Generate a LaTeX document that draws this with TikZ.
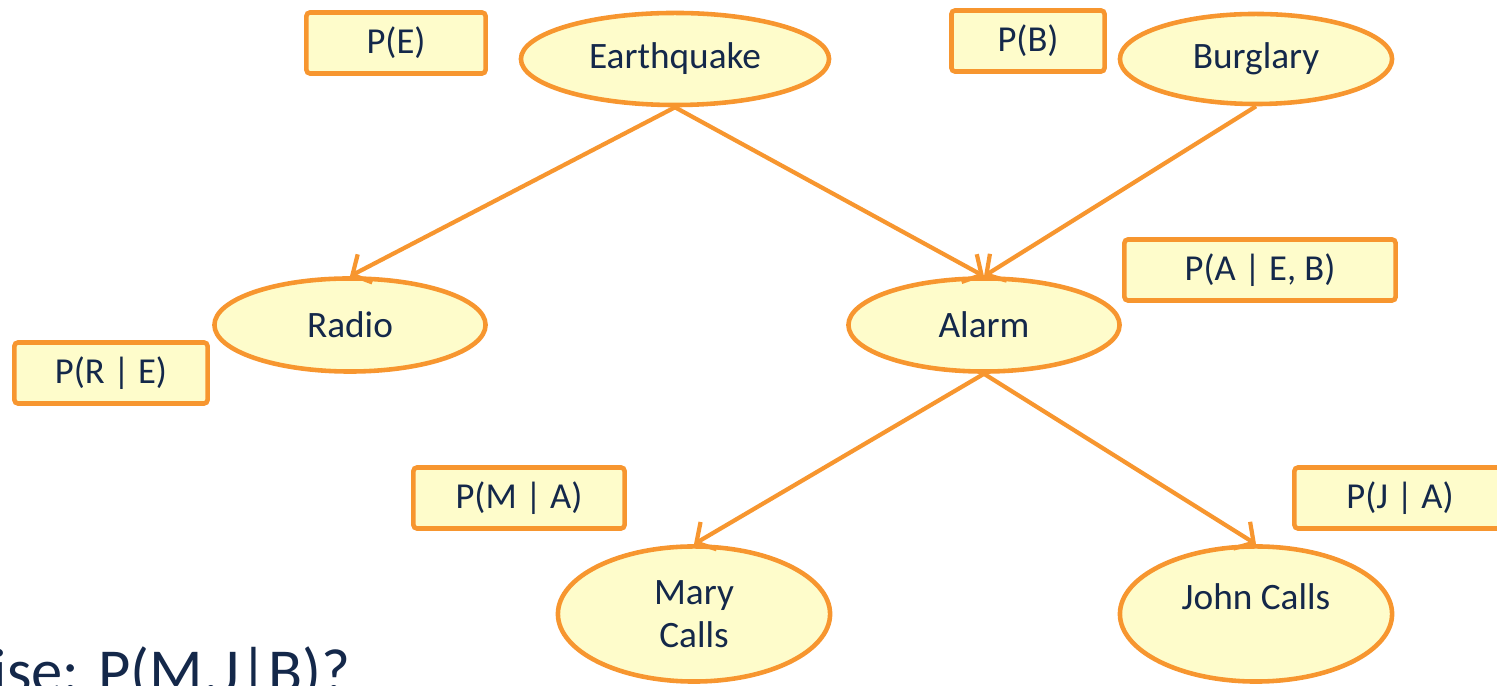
\documentclass[tikz,border=0pt]{standalone}
\usepackage{fontspec}
\setmainfont{Carlito}
\usepackage{tikz}
\usetikzlibrary{shapes.geometric,arrows.meta}
\definecolor{netorange}{HTML}{F7962F}
\definecolor{netfill}{HTML}{FEFCCB}
\definecolor{nettext}{HTML}{14284A}

\begin{document}
\begin{tikzpicture}[x=0.01cm, y=-0.01cm]
          \tikzset{
            VarStyle/.style = { ellipse, draw = netorange, line width = 1.3pt,
              fill = netfill, text = nettext, align = center,
              font = \fontsize{10.6}{12.4}\selectfont },
            CptStyle/.style = { rectangle, rounded corners = 1pt, draw = netorange,
              line width = 1.3pt, fill = netfill, text = nettext,
              minimum height = 0.61cm, font = \fontsize{10.4}{12}\selectfont },
            EdgeStyle/.style = { draw = netorange, line width = 1.2pt,
              -{Straight Barb[length=4pt, width=9pt]} } }
          \useasboundingbox (0,0) rectangle (1497,686);

          % variables
          \node[VarStyle, minimum width=3.08cm, minimum height=0.92cm] (Earthquake) at (675,59) {Earthquake};
          \node[VarStyle, minimum width=2.72cm, minimum height=0.90cm] (Burglary) at (1256,59) {Burglary};
          \node[VarStyle, minimum width=2.71cm, minimum height=0.93cm] (Radio) at (350,325) {Radio};
          \node[VarStyle, minimum width=2.71cm, minimum height=0.93cm] (Alarm) at (984,325) {Alarm};
          \node[VarStyle, minimum width=2.72cm, minimum height=1.35cm] (MaryCalls) at (694,614) {Mary\\Calls};
          \node[VarStyle, minimum width=2.72cm, minimum height=1.35cm] (JohnCalls) at (1256,614) {John Calls\\[-6pt] \strut};

          % tables
          \node[CptStyle, minimum width=1.79cm] (PE) at (396,43) {P(E)};
          \node[CptStyle, minimum width=1.53cm] (PB) at (1028,41) {P(B)};
          \node[CptStyle, minimum width=2.71cm] (PAEB) at (1260,270) {P(A | E, B)};
          \node[CptStyle, minimum width=1.93cm] (PRE) at (111,373) {P(R | E)};
          \node[CptStyle, minimum width=2.11cm] (PMA) at (519,498) {P(M | A)};
          \node[CptStyle, minimum width=2.11cm] (PJA) at (1400,498) {P(J | A)};

          \draw[EdgeStyle] (Earthquake.south) -- (Radio.north);
          \draw[EdgeStyle] (Earthquake.south) -- (Alarm.north);
          \draw[EdgeStyle] (Burglary.south) -- (Alarm.north);
          \draw[EdgeStyle] (Alarm.south) -- (MaryCalls.north);
          \draw[EdgeStyle] (Alarm.south) -- (JohnCalls.north);

          \node[anchor=base west, inner sep=0pt, text=nettext,
            font=\fontsize{17.8}{21}\selectfont] (Question) at (-8,693) {ise: P(M,J|B)?};
        \end{tikzpicture}
\end{document}
